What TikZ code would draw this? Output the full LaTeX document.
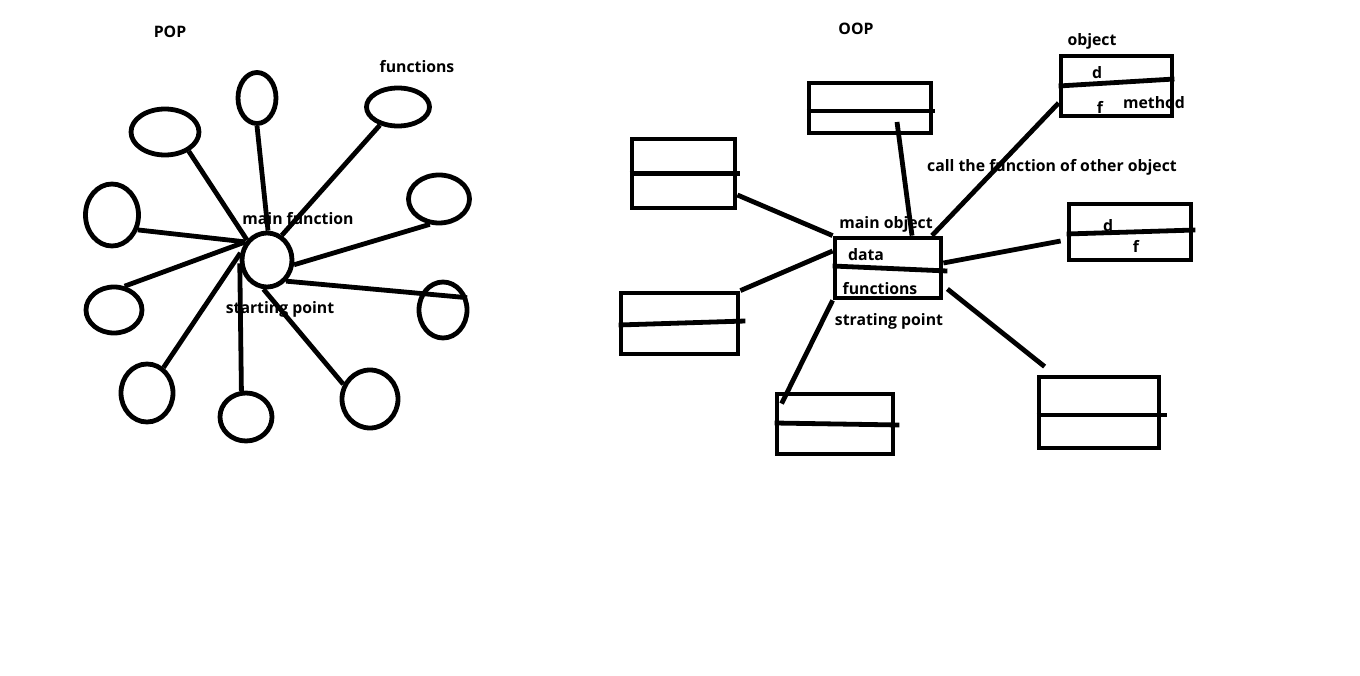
\documentclass[tikz,border=0pt]{standalone}
\usepackage{fontspec}
\setmainfont{Open Sans}
\usetikzlibrary{shapes.geometric}

\begin{document}
\begin{tikzpicture}[x=1pt, y=-1pt, line width=4.8pt,
    fn/.style={draw, ellipse, inner sep=0pt},
    obj/.style={draw, rectangle, inner sep=0pt},
    lbl/.style={font=\fontsize{15.8}{18}\selectfont\bfseries, inner sep=0pt}]
    \useasboundingbox (0,0) rectangle (1360,676);

    \node[lbl] (pop) at (170,32) {POP};
    \node[lbl] (fns) at (417,67) {functions};
    \node[lbl] (mfn) at (298,219) {main function};
    \node[lbl] (stp) at (280,309) {starting point};
    \node[fn, minimum width=50pt, minimum height=54pt] (mf) at (267,260) {};
    \node[fn, minimum width=38pt, minimum height=51pt] (f1) at (257,98) {};
    \node[fn, minimum width=63pt, minimum height=38pt] (f2) at (398,107) {};
    \node[fn, minimum width=68pt, minimum height=46pt] (f3) at (165,132) {};
    \node[fn, minimum width=53pt, minimum height=62pt] (f4) at (112,215) {};
    \node[fn, minimum width=61pt, minimum height=48pt] (f5) at (439,199) {};
    \node[fn, minimum width=56pt, minimum height=46pt] (f6) at (114,310) {};
    \node[fn, minimum width=48pt, minimum height=56pt] (f7) at (443,310) {};
    \node[fn, minimum width=52pt, minimum height=58pt] (f8) at (147,393) {};
    \node[fn, minimum width=52pt, minimum height=48pt] (f9) at (246,417) {};
    \node[fn, minimum width=56pt, minimum height=58pt] (f10) at (370,399) {};

    \node[lbl] (oop) at (856,29) {OOP};
    \node[lbl, anchor=west] (mol) at (837,224) {main object};
    \node[lbl] (dat) at (866,255) {data};
    \node[lbl] (mfs) at (880,289) {functions};
    \node[lbl] (srp) at (889,321) {strating point};
    \node[lbl] (call) at (1052,167) {call the function of other object};
    \node[lbl] (objl) at (1092,41) {object};
    \node[lbl] (od) at (1097,73) {d};
    \node[lbl] (of) at (1100,107) {f};
    \node[lbl] (meth) at (1154,103) {method};
    \node[lbl] (rd) at (1108,226) {d};
    \node[lbl] (rf) at (1136,246) {f};
    \node[obj, minimum width=106pt, minimum height=60pt] (mo) at (888,268) {};
    \node[obj, minimum width=122pt, minimum height=50pt] (tb) at (870,108) {};
    \node[obj, minimum width=103pt, minimum height=69pt] (lu) at (683.5,173.5) {};
    \node[obj, minimum width=117pt, minimum height=61pt] (ll) at (679.5,323.5) {};
    \node[obj, minimum width=116pt, minimum height=60pt] (bb) at (835,424) {};
    \node[obj, minimum width=111pt, minimum height=60pt] (ob) at (1116.5,86) {};
    \node[obj, minimum width=122pt, minimum height=56pt] (rm) at (1130,232) {};
    \node[obj, minimum width=120pt, minimum height=71pt] (br) at (1099,412.5) {};

    \draw
    (mf.88) edge (f1.south)
    (mf.59) edge (f2.225)
    (mf.135) edge (f3.-39)
    (mf.140) edge (f4.-30)
    (mf.-10) edge (f5.250)
    (mf.140) edge (f6.66)
    (mf.-48) edge (f7.27)
    (mf.165) edge (f8.57)
    (mf.187) edge (f9.100)
    (mf.263) edge (f10.151);

    \draw
    ([yshift=2pt]mo.west) edge ([xshift=4pt,yshift=-3pt]mo.east)
    ([yshift=-3pt]tb.west) edge ([xshift=2pt,yshift=-3pt]tb.east)
    (lu.west) edge ([xshift=3pt]lu.east)
    ([yshift=-1.5pt]ll.west) edge ([xshift=5pt,yshift=2.5pt]ll.east)
    ([yshift=1pt]bb.west) edge ([xshift=4pt,yshift=-1pt]bb.east)
    (ob.west) edge ([yshift=7pt]ob.east)
    ([yshift=-2pt]rm.west) edge ([xshift=2pt,yshift=2pt]rm.east)
    ([yshift=-2.5pt]br.west) edge ([xshift=6pt,yshift=-2.5pt]br.east);

    \draw
    ([xshift=27pt,yshift=-14pt]tb.center) edge ([xshift=24pt]mo.north)
    ([yshift=-21.5pt]lu.east) edge (mo.north west)
    (ll.north east) edge ([yshift=17pt]mo.west)
    ([xshift=7pt,yshift=-12pt]bb.north west) edge (mo.south west)
    ([yshift=-17pt]ob.west) edge ([xshift=44pt]mo.north)
    ([yshift=5pt]mo.east) edge ([xshift=-6pt,yshift=-9pt]rm.west)
    ([xshift=4pt,yshift=-21pt]mo.east) edge ([xshift=8pt,yshift=8pt]br.north west);
\end{tikzpicture}
\end{document}
